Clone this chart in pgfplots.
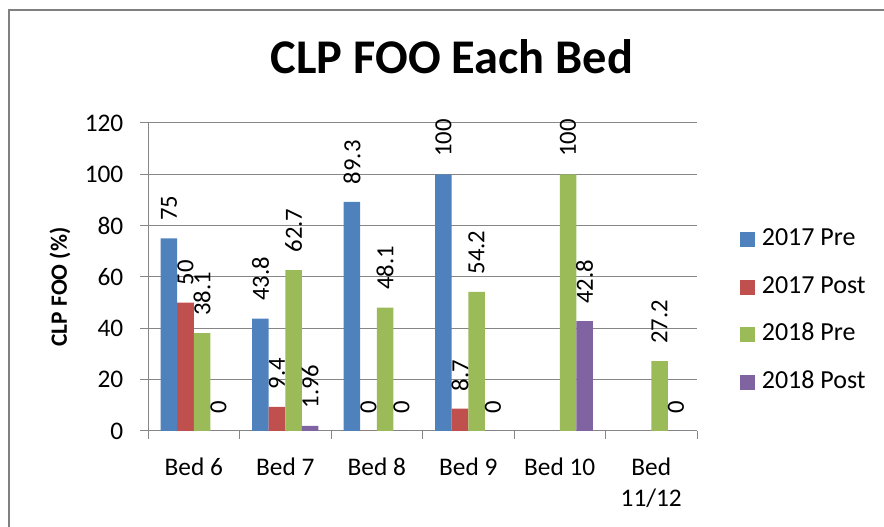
\documentclass[border=0pt]{standalone}
\usepackage{pgfplots}
\pgfplotsset{compat=1.18}
\usepackage{fontspec}
\setmainfont{Carlito}
\definecolor{cblue}{RGB}{79,129,189}
\definecolor{cred}{RGB}{192,80,77}
\definecolor{cgreen}{RGB}{155,187,89}
\definecolor{cpurple}{RGB}{128,100,162}
\definecolor{gridgray}{RGB}{134,134,134}
\definecolor{framegray}{RGB}{128,128,128}
\pgfplotsset{
  mybar/.style={fill=#1, draw=none,
    legend image code/.code={\fill[#1] (0pt,-5.6pt) rectangle (11.2pt,5.6pt);}},
}
\begin{document}
\begin{tikzpicture}
\useasboundingbox (0,0) rectangle (663pt,395.25pt);
\draw[line width=1.5pt, framegray] (6.75pt,0) -- (6.75pt,387.75pt) -- (663pt,387.75pt);
\begin{axis}[
  at={(111pt,72pt)}, anchor=south west,
  scale only axis, width=411.75pt, height=231pt,
  /pgf/number format/assume math mode=true,
  ybar=0pt, bar width=12.4pt,
  xmin=-0.5, xmax=5.5, ymin=0, ymax=120,
  ytick={0,20,...,120},
  xtick={0,...,5},
  xticklabels={Bed 6,Bed 7,Bed 8,Bed 9,Bed 10,{Bed\\11/12}},
  minor xtick={-0.5,0.5,...,5.5},
  axis x line*=bottom, axis y line*=left,
  axis line style={gridgray, line width=0.75pt, -},
  ymajorgrids, grid style={gridgray, line width=0.75pt},
  tick align=outside, major tick length=6pt, minor tick length=6pt,
  tick style={gridgray, line width=0.75pt},
  major x tick style={draw=none},
  ticklabel style={font=\fontsize{19}{23.5}\selectfont},
  xticklabel style={align=center, yshift=-10.5pt},
  yticklabel style={xshift=-9pt},
  title={CLP FOO Each Bed},
  title style={at={(axis description cs:0.5537,1.189)}, anchor=center, font=\fontsize{36.3}{40}\selectfont\bfseries},
  ylabel={CLP FOO (\%)},
  ylabel style={at={(axis description cs:-0.1603,0.4675)}, anchor=center, font=\fontsize{17.5}{20}\selectfont\bfseries},
  nodes near coords,
  every node near coord/.append style={rotate=90, anchor=west, inner xsep=13pt, inner ysep=0pt, font=\fontsize{18.5}{20}\selectfont, black},
  legend style={at={(1,0.39)}, anchor=west, xshift=32.25pt, draw=none, fill=none, inner sep=0pt,
    font=\fontsize{19.5}{22}\selectfont, row sep=18.75pt, column sep=5pt,
    nodes={inner sep=0pt, text height=13pt, text depth=4pt}},
  legend cell align=left,
]
\addplot[mybar=cblue] coordinates {(0,75) (1,43.8) (2,89.3) (3,100)};
\addplot[mybar=cred] coordinates {(0,50) (1,9.4) (2,0) (3,8.7)};
\addplot[mybar=cgreen] coordinates {(0,38.1) (1,62.7) (2,48.1) (3,54.2) (4,100) (5,27.2)};
\addplot[mybar=cpurple] coordinates {(0,0) (1,1.96) (2,0) (3,0) (4,42.8) (5,0)};
\legend{2017 Pre,2017 Post,2018 Pre,2018 Post}
\end{axis}
\end{tikzpicture}
\end{document}
